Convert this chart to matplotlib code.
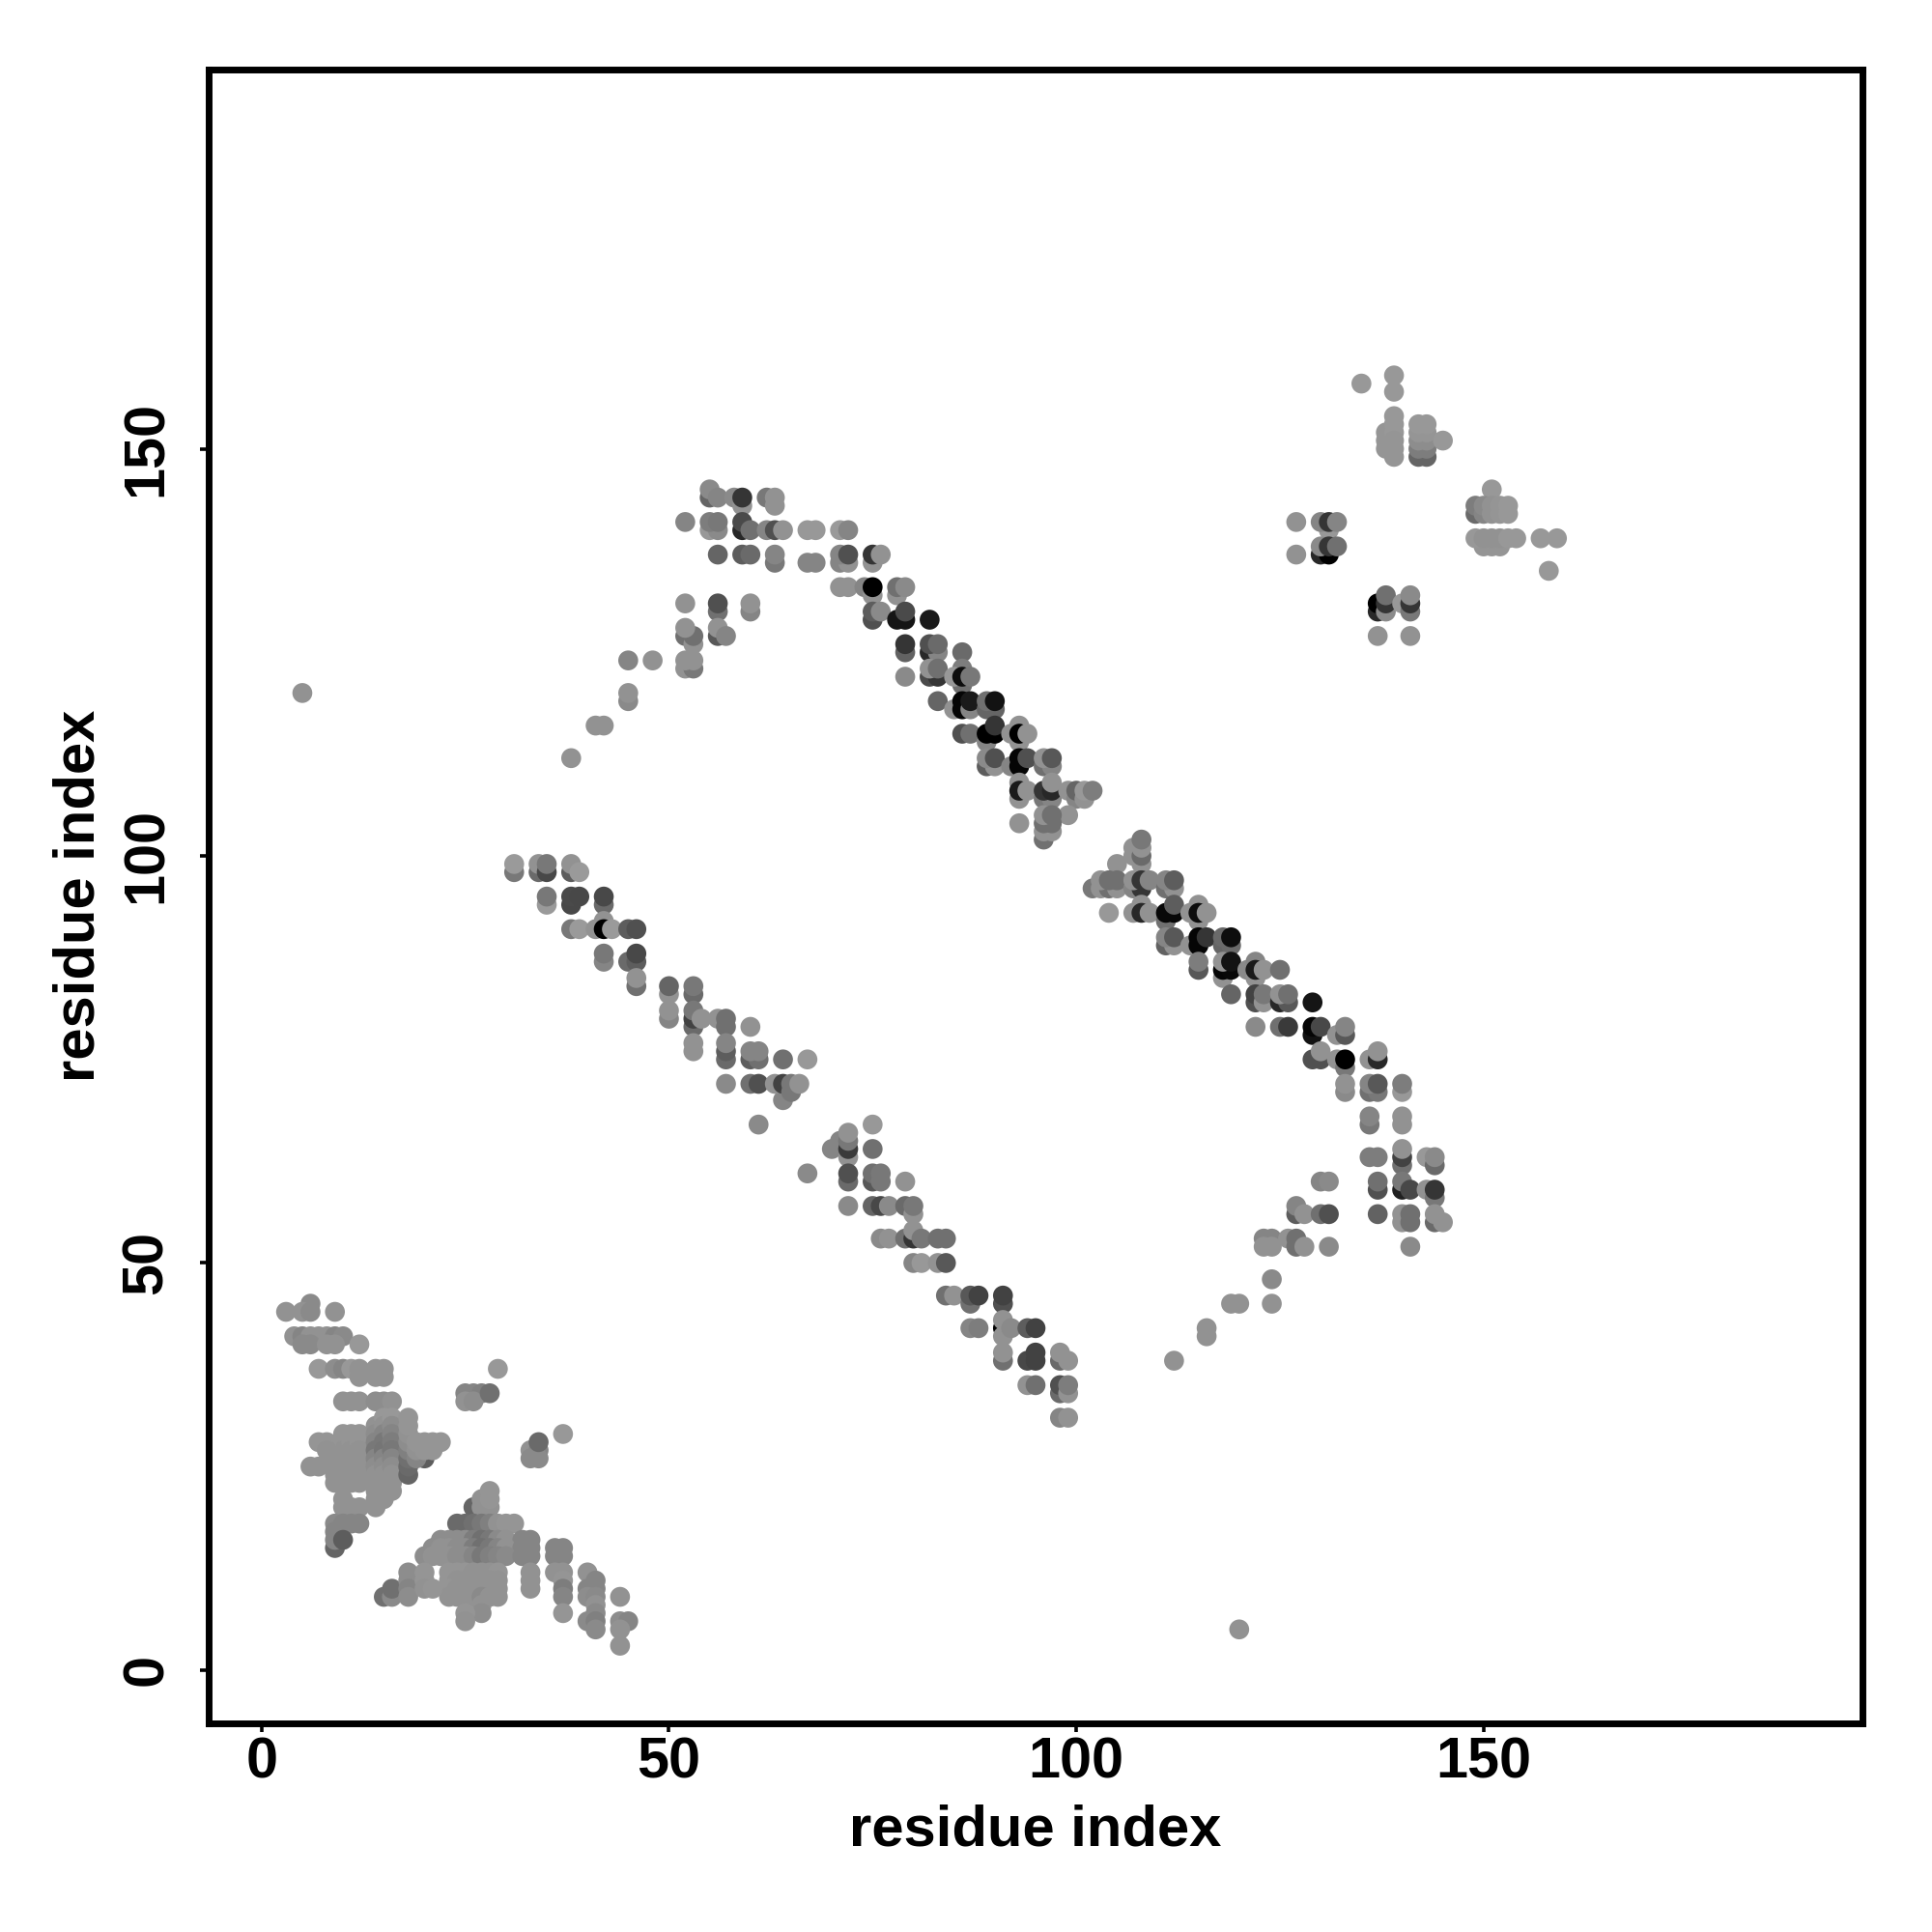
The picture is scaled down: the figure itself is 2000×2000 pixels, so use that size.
import matplotlib
matplotlib.use("Agg")
import matplotlib.pyplot as plt

# (residue i, residue j, grey shade of the contact)
outliers = [(5,120,.55),(120,5,.55)]

helix_a = [
(6,45,.52),(3,44,.55),(5,44,.55),(6,44,.52),(9,44,.55),
(4,41,.55),(5,41,.5),(6,41,.55),(7,41,.55),(8,41,.55),(9,41,.5),(10,41,.52),
(5,40,.52),(6,40,.52),(8,40,.55),(9,40,.55),(12,40,.57),
(7,37,.57),(9,37,.53),(10,37,.5),(11,37,.57),(12,37,.55),(14,37,.55),(15,37,.55),
(12,36,.55),(14,36,.55),(15,36,.55),
(10,33,.55),(11,33,.55),(12,33,.55),(14,33,.53),(15,33,.53),(16,33,.55),
(9,26,.55),(9,25,.55),(9,24,.55),(9,23,.55),
(10,29,.56),(10,28,.56),(10,27,.55),(10,26,.55),(10,25,.55),(10,24,.55),(10,23,.55),
(11,29,.56),(11,28,.56),(11,27,.55),(11,26,.55),(11,25,.55),(11,24,.55),(11,23,.55),
(12,29,.56),(12,28,.56),(12,27,.55),(12,26,.55),(12,25,.55),(12,24,.55),(12,23,.55),
(7,28,.56),(8,28,.56),(8,27,.55),(6,25,.55),(7,25,.55),
(14,30,.55),(14,29,.53),(14,28,.5),(14,27,.45),(14,26,.5),(14,25,.53),(14,24,.55),(14,23,.55),(14,22,.55),(14,21,.55),(14,20,.55),
(15,31,.57),(15,30,.55),(15,29,.5),(15,28,.45),(15,27,.44),(15,26,.5),(15,25,.53),(15,24,.55),(15,23,.55),(15,22,.55),(15,21,.55),
(16,31,.57),(16,30,.53),(16,29,.5),(16,28,.47),(16,27,.45),(16,26,.5),(16,25,.53),(16,24,.55),(16,23,.55),(16,22,.55),
(18,24,.38),(18,25,.4),(18,26,.42),(18,27,.48),(18,28,.53),(18,29,.55),(18,30,.56),(18,31,.56),
(20,26,.35),(19,26,.5),(19,27,.55),(20,27,.56),(21,27,.56),(19,28,.56),(20,28,.56),(21,28,.56),(22,28,.56),
(10,21,.55),(10,20,.55),(11,20,.55),(12,20,.55),
(9,18,.52),(10,18,.5),(11,18,.5),(12,18,.5),(9,17,.5),(9,15,.38),(9,16,.5),(10,16,.35),
]

helix_a_side = [
(29,37,.57),(25,34,.5),(26,34,.5),(27,34,.48),(25,33,.55),(26,33,.53),(28,34,.42),
(33,27,.55),(34,27,.5),(33,26,.52),(34,26,.52),(34,28,.4),(37,29,.57),
]

helix_b = [
(26,20,.38),(27,20,.55),(28,20,.55),(27,21,.55),(28,21,.56),(28,22,.56),
(24,18,.4),(25,18,.4),(26,18,.42),(27,18,.45),(28,18,.48),(29,18,.55),(30,18,.56),(31,18,.56),
(22,16,.53),(23,16,.53),(24,16,.53),(25,16,.53),(26,16,.47),(27,16,.42),(28,16,.45),(29,16,.52),(30,16,.55),(32,16,.5),(33,16,.5),
(21,15,.53),(22,15,.55),(23,15,.55),(24,15,.53),(25,15,.53),(26,15,.47),(27,15,.42),(28,15,.45),(29,15,.5),(30,15,.55),(32,15,.5),(33,15,.5),
(20,14,.53),(21,14,.55),(22,14,.55),(23,14,.55),(24,14,.53),(25,14,.53),(26,14,.5),(27,14,.45),(28,14,.48),(29,14,.5),(30,14,.52),(32,14,.5),(33,14,.5),
(23,12,.56),(24,12,.56),(25,12,.56),(26,12,.55),(27,12,.55),(28,12,.55),(29,12,.56),
(23,11,.56),(24,11,.55),(25,11,.55),(26,11,.55),(27,11,.55),(28,11,.55),(29,11,.55),
(23,10,.56),(24,10,.55),(25,10,.55),(26,10,.55),(27,10,.55),(28,10,.55),(29,10,.55),
(23,9,.55),(24,9,.55),(25,9,.55),(26,9,.55),(27,9,.52),(28,9,.55),(29,9,.55),
(27,8,.55),(27,7,.53),(25,7,.56),(25,6,.55),
(33,12,.55),(33,11,.55),(33,10,.55),
(15,9,.42),(16,9,.52),(16,10,.42),(18,12,.53),(18,11,.53),(18,10,.5),(18,9,.53),
(20,12,.56),(20,11,.56),(20,10,.55),(21,10,.56),
(36,15,.5),(37,15,.5),(36,14,.5),(37,14,.5),(36,12,.55),(37,12,.55),(37,11,.56),(37,10,.47),(37,9,.5),(37,7,.56),
(40,12,.55),(41,11,.5),(40,10,.5),(41,10,.5),(40,9,.53),(41,9,.52),(41,8,.55),(41,7,.52),(40,6,.52),(41,6,.48),(41,5,.52),
(44,9,.55),(44,6,.53),(45,6,.5),(44,5,.55),(44,3,.55),
]

strand_low_1 = [
(31,98,.45),(31,99,.58),(34,98,.4),(34,99,.55),(35,98,.27),(35,99,.45),(38,98,.35),(38,99,.55),(39,98,.58),
(35,94,.58),(35,95,.45),(38,94,.27),(38,95,.28),(39,95,.27),(42,94,.4),(42,95,.27),
(38,91,.45),(39,91,.58),(41,91,.55),(42,92,.55),(42,91,.0),(43,91,.58),(45,91,.35),(46,91,.3),
(42,87,.5),(42,88,.45),(45,87,.4),(46,87,.35),(46,88,.27),(46,84,.42),(46,85,.55),
(50,83,.55),(50,84,.38),(50,80,.5),(50,81,.55),
(53,83,.4),(53,84,.45),(53,79,.4),(53,80,.25),(53,81,.45),(54,80,.55),
(56,80,.55),(57,79,.42),(57,80,.42),(60,79,.55),
(53,76,.55),(53,77,.55),(57,75,.4),(57,76,.35),(57,77,.5),
(60,75,.35),(61,75,.42),(60,76,.5),(61,76,.5),(64,75,.42),(67,75,.57),
(57,72,.52),(60,72,.42),(61,72,.3),(64,70,.5),(63,72,.55),(64,72,.25),(65,71,.45),(65,72,.45),(66,72,.55),
(61,67,.52),(67,61,.52),
]

strand_low_2 = [
(70,64,.5),(71,65,.5),(72,63,.55),(72,64,.22),(72,65,.45),(72,66,.55),(75,67,.57),(75,64,.42),
(72,60,.4),(72,61,.3),(75,60,.33),(75,61,.42),(76,60,.45),(76,61,.45),(79,60,.55),
(72,57,.52),(75,57,.38),(76,57,.27),(77,57,.52),(79,57,.4),(80,56,.55),(80,57,.45),
(76,53,.52),(77,53,.55),(79,53,.42),(80,53,.2),(80,54,.55),(81,53,.45),(83,53,.42),(84,53,.42),
(80,50,.5),(81,50,.57),(83,50,.55),(84,50,.33),
(84,46,.42),(85,46,.55),(87,45,.42),(87,46,.33),(88,46,.25),(91,45,.3),(91,46,.25),
(87,42,.5),(88,42,.47),(91,42,.0),(91,43,.55),(91,41,.55),(92,42,.52),(94,42,.35),(95,42,.25),
(91,38,.42),(91,39,.55),(94,38,.27),(95,38,.25),(95,39,.25),(98,38,.4),(98,39,.55),(99,38,.55),
(94,35,.55),(95,35,.42),(98,34,.4),(98,35,.3),(99,34,.55),(99,35,.47),
(98,31,.5),(99,31,.55),
]

arm_up = [
(38,112,.55),(41,116,.55),(42,116,.55),(45,119,.52),(45,120,.55),(45,124,.5),(48,124,.55),
(52,123,.55),(53,123,.45),(52,124,.55),(53,124,.55),
(52,127,.42),(53,126,.55),(53,127,.42),(52,128,.55),(52,131,.55),
(56,130,.42),(56,131,.3),(56,127,.33),(56,128,.55),(57,127,.5),(60,130,.5),(60,131,.55),
(55,144,.38),(55,145,.52),(56,144,.5),(58,144,.52),(59,143,.55),(59,144,.2),(62,144,.45),(63,143,.55),(63,144,.55),
(52,141,.5),(55,140,.57),(56,140,.52),(55,141,.47),(56,141,.45),(59,140,.15),(59,141,.28),(60,140,.42),
(62,140,.5),(63,140,.3),(64,140,.55),
(56,137,.38),(59,137,.35),(60,137,.4),(63,136,.45),(63,137,.5),
(67,140,.57),(68,140,.57),(67,136,.5),(68,136,.5),
(71,140,.58),(72,140,.5),(71,136,.5),(72,136,.55),(71,137,.5),(72,137,.3),
(75,136,.55),(75,137,.2),(76,137,.55),
]

strand_up_1 = [
(71,133,.55),(72,133,.55),(74,133,.5),(75,132,.55),(75,133,.0),(78,132,.55),(78,133,.42),(79,133,.52),
(75,129,.3),(75,130,.35),(76,130,.52),(78,129,.08),(79,129,.08),(79,130,.28),(82,129,.1),
(79,125,.37),(79,126,.2),(82,125,.15),(83,125,.5),(82,126,.3),(83,126,.4),
(79,122,.52),(82,122,.28),(83,122,.2),(82,123,.55),(83,123,.42),
(86,125,.4),(86,121,.42),(86,123,.47),(85,122,.57),(86,122,.05),(87,122,.45),
(83,119,.38),(85,118,.55),(86,118,.02),(86,119,.02),(87,118,.5),(87,119,.1),
(86,115,.3),(87,115,.42),
(89,118,.38),(90,118,.38),(89,119,.42),(90,119,.07),
(89,114,.5),(89,115,.0),(90,115,.0),(90,116,.2),
(92,115,.55),(93,114,.55),(93,116,.55),(93,115,.0),(94,115,.55),
(89,111,.35),(90,111,.55),(89,112,.52),(90,112,.3),(92,111,.5),(93,111,.02),(93,112,.02),(94,112,.3),
(96,111,.42),(97,111,.5),(96,112,.55),(97,112,.33),
(93,107,.55),(93,109,.55),(93,108,.1),(94,108,.55),
(96,107,.45),(97,107,.5),(96,108,.2),(97,108,.15),(97,109,.55),
(99,108,.55),(100,107,.5),(100,108,.38),(101,107,.55),(101,108,.57),(102,108,.47),
(93,104,.55),(99,105,.55),
(96,102,.42),(96,103,.55),(97,103,.55),(96,104,.42),(97,104,.42),(96,105,.55),(97,105,.42),
]

strand_up_2 = [
(105,99,.55),(107,100,.55),(107,101,.55),(108,99,.55),(108,100,.4),(108,101,.55),(108,102,.45),
(102,96,.45),(103,96,.55),(104,96,.42),(105,96,.55),(103,97,.55),(104,97,.42),(105,97,.42),
(107,96,.5),(108,96,.2),(107,97,.55),(108,97,.2),(109,97,.5),
(111,96,.42),(112,96,.55),(111,97,.5),(112,97,.35),
(104,93,.57),(107,93,.55),(108,94,.55),(108,93,.15),(109,93,.55),
(111,92,.42),(111,93,.03),(112,93,.03),(112,94,.35),
(114,93,.55),(115,92,.55),(115,94,.55),(115,93,.05),(116,93,.55),
(111,89,.37),(112,89,.55),(111,90,.5),(112,90,.33),
(114,89,.55),(115,89,.02),(115,90,.02),(116,90,.2),
(118,89,.38),(119,89,.4),(118,90,.4),(119,90,.05),
(115,86,.33),(115,87,.47),
(118,85,.55),(118,86,.02),(119,86,.03),(118,87,.55),(119,87,.07),(119,83,.38),
(121,86,.52),(122,85,.55),(122,87,.5),(122,86,.1),(123,86,.55),(125,86,.42),
(122,82,.3),(122,83,.25),(123,82,.55),(123,83,.45),
(125,82,.15),(126,82,.33),(125,83,.55),(126,83,.42),
(122,79,.52),(125,79,.42),(126,79,.22),(129,82,.08),
(129,78,.07),(129,79,.02),(130,79,.27),
(132,78,.55),(133,78,.33),(133,79,.5),
(129,75,.3),(130,75,.3),(130,76,.55),(132,75,.55),(133,74,.45),(133,75,.0),
(133,71,.52),(133,72,.55),
(136,75,.55),(137,75,.15),(137,76,.55),
(136,71,.42),(137,71,.45),(136,72,.5),(137,72,.33),(140,71,.57),(140,72,.47),
(136,67,.45),(136,68,.5),(140,67,.55),(140,68,.55),
(136,63,.47),(137,63,.47),(140,62,.42),(140,63,.25),(140,64,.55),
(143,63,.57),(144,62,.4),(144,63,.52),
(137,59,.3),(137,60,.42),(140,59,.12),(140,60,.45),(141,59,.27),(143,59,.55),(144,58,.45),(144,59,.2),
(137,56,.37),(140,55,.55),(140,56,.55),(141,55,.42),(141,56,.42),(144,55,.4),(144,56,.55),(145,55,.55),
(141,52,.52),
]

arm_down = [
(130,60,.5),(131,60,.52),(127,56,.35),(127,57,.5),(128,56,.55),(130,56,.42),(131,56,.3),
(123,53,.5),(124,53,.5),(123,52,.55),(124,52,.55),(126,53,.55),(127,52,.42),(127,53,.42),(128,52,.55),(131,52,.52),
(124,48,.52),(124,45,.55),(119,45,.55),(120,45,.55),(116,41,.55),(116,42,.55),(112,38,.55),
]

domain_c = [
(135,158,.57),(139,159,.57),(139,157,.57),
(138,152,.56),(138,151,.56),(138,150,.56),
(139,154,.57),(139,153,.57),(139,152,.57),(139,151,.56),(139,150,.56),(139,149,.56),
(142,149,.38),(143,149,.38),(142,150,.47),(143,150,.47),(142,151,.53),(143,151,.53),(142,152,.56),(143,152,.56),(142,153,.57),(143,153,.57),
(145,151,.57),(151,145,.57),
(149,142,.4),(149,143,.47),(150,142,.5),(150,143,.52),(151,142,.55),(151,143,.55),(152,142,.56),(152,143,.56),(153,142,.57),(153,143,.57),
(150,138,.56),(151,138,.56),(152,138,.56),
(149,139,.57),(150,139,.55),(151,139,.55),(152,139,.55),(153,139,.57),(154,139,.57),
(157,139,.57),(159,139,.57),(158,135,.57),
(127,141,.55),(127,137,.55),(131,140,.57),(130,141,.5),(131,141,.2),(132,141,.5),
(130,137,.15),(131,137,.0),(130,138,.52),(131,138,.2),(132,138,.42),
(137,130,.15),(137,131,.0),(138,130,.52),(138,131,.2),(138,132,.42),
(140,131,.57),(141,130,.45),(141,131,.2),(141,132,.52),
(137,127,.55),(141,127,.55),
]

groups = [outliers, helix_a, helix_a_side, helix_b, strand_low_1, strand_low_2,
          arm_up, strand_up_1, strand_up_2, arm_down, domain_c]
x_ticks = [0, 50, 100, 150]
y_ticks = [0, 50, 100, 150]
x_label = "residue index"
y_label = "residue index"

plt.rcParams['font.family'] = ['Liberation Sans', 'DejaVu Sans']
plt.rcParams['font.weight'] = 'bold'

W = 2000.0
fig = plt.figure(figsize=(10, 10), dpi=200, facecolor='white')
ax = fig.add_axes([216/W, 1-1783.7/W, (1928-216)/W, (1783.7-71.7)/W])
for g in groups:
    xs = [p[0] for p in g]
    ys = [p[1] for p in g]
    cs = [p[2] for p in g]
    ax.scatter(xs, ys, c=cs, cmap='gray', vmin=0, vmax=0.96, s=55, linewidths=0, zorder=2)
ax.set_xlim(-6.5, 196.5)
ax.set_ylim(-6.5, 196.6)
for s in ax.spines.values():
    s.set_linewidth(2.5)
ax.set_xticks(x_ticks)
ax.set_yticks(y_ticks)
ax.tick_params(axis='x', length=3.4, width=1.3, pad=1.6, labelsize=21.4)
ax.tick_params(axis='y', length=3.4, width=1.3, pad=9.6, labelsize=21.4)
for t in ax.get_yticklabels():
    t.set_rotation(90)
    t.set_va('center')
ax.set_xlabel(x_label, fontsize=21.5, fontweight='bold', va='baseline')
ax.set_ylabel(y_label, fontsize=21.5, fontweight='bold', va='baseline')
ax.xaxis.set_label_coords(0.5, -0.0738)
ax.yaxis.set_label_coords(-0.0695, 0.5)
fig.savefig('out.png', dpi=200, facecolor='white')
